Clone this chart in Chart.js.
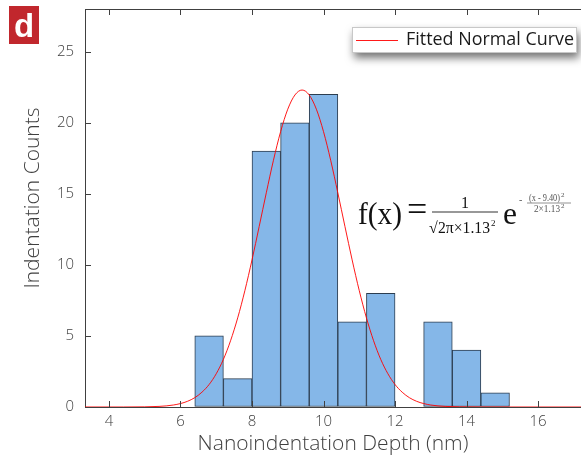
<!DOCTYPE html>
<html><head><meta charset="utf-8">
<script src="https://cdn.jsdelivr.net/npm/chart.js@4.4.1/dist/chart.umd.min.js"></script>
<style>html,body{margin:0;padding:0;background:#fff;overflow:hidden}</style>
</head><body>
<canvas id="c" width="581" height="457"></canvas>
<script>
// Histogram bins (centres, width 0.8 nm) and counts
const binCenters = [6.8, 7.6, 8.4, 9.2, 10.0, 10.8, 11.6, 12.4, 13.2, 14.0, 14.8];
const binCounts  = [5, 2, 18, 20, 22, 6, 8, 0, 6, 4, 1];
// Fitted normal curve
const curveX = [3.3, 4.4, 5.0, 5.4, 5.6, 5.8, 6.0, 6.2, 6.4, 6.6, 6.8, 7.0, 7.2, 7.4, 7.6, 7.8, 8.0, 8.2, 8.4, 8.6, 8.8, 9.0, 9.2, 9.4,
                9.6, 9.8, 10.0, 10.2, 10.4, 10.6, 10.8, 11.0, 11.2, 11.4, 11.6, 11.8, 12.0, 12.2, 12.4, 12.6, 12.8, 13.0, 13.2, 13.4, 13.8, 14.4, 17.2];
const curveY = [0, 0.001, 0.011, 0.042, 0.078, 0.139, 0.241, 0.404, 0.657, 1.04, 1.58, 2.34, 3.35, 4.66, 6.27, 8.18, 10.35, 12.69, 15.07, 17.36, 19.37, 20.95, 21.95, 22.3,
                21.95, 20.95, 19.37, 17.36, 15.07, 12.69, 10.35, 8.18, 6.27, 4.66, 3.35, 2.34, 1.58, 1.04, 0.657, 0.404, 0.241, 0.139, 0.078, 0.042, 0.011, 0.001, 0];
const xTicks = [4, 6, 8, 10, 12, 14, 16];
const yTicks = [0, 5, 10, 15, 20, 25];
const curveLabel = 'Fitted Normal Curve';
const panelLabel = 'd';
const xTitle = 'Nanoindentation Depth (nm)';
const yTitle = 'Indentation Counts';

const AXIS = '#404040';
const TICKFONT = {family: '"Open Sans", sans-serif', size: 15, weight: '300'};
const TITLEFONT = {family: '"Open Sans", sans-serif', size: 21, weight: '300'};

const decor = {
  id: 'decor',
  afterDraw(chart) {
    const ctx = chart.ctx, a = chart.chartArea, xs = chart.scales.x, ys = chart.scales.y;
    ctx.save();
    // top border
    ctx.strokeStyle = AXIS; ctx.lineWidth = 1;
    ctx.beginPath(); ctx.moveTo(a.left, a.top + 0.5); ctx.lineTo(a.right, a.top + 0.5); ctx.stroke();
    // inward ticks
    ctx.beginPath();
    xTicks.forEach(v => {
      const px = Math.round(xs.getPixelForValue(v)) + 0.5;
      ctx.moveTo(px, a.bottom); ctx.lineTo(px, a.bottom - 6);
      ctx.moveTo(px, a.top); ctx.lineTo(px, a.top + 6);
    });
    yTicks.forEach(v => {
      const py = Math.round(ys.getPixelForValue(v)) + 0.5;
      ctx.moveTo(a.left, py); ctx.lineTo(a.left + 6, py);
    });
    ctx.stroke();

    // y axis title
    ctx.save();
    ctx.translate(33, 198); ctx.rotate(-Math.PI / 2);
    ctx.fillStyle = AXIS; ctx.font = '300 21px "Open Sans", sans-serif';
    ctx.textAlign = 'center'; ctx.textBaseline = 'middle';
    ctx.fillText(yTitle, 0, 0);
    ctx.restore();

    // legend box
    const lx = 352, ly = 27, lw = 225, lh = 26;
    ctx.save();
    ctx.shadowColor = 'rgba(0,0,0,0.55)'; ctx.shadowBlur = 8; ctx.shadowOffsetX = 2; ctx.shadowOffsetY = 5;
    ctx.fillStyle = '#fff'; ctx.fillRect(lx, ly, lw, lh);
    ctx.restore();
    ctx.strokeStyle = '#c8c8c8'; ctx.lineWidth = 1;
    ctx.strokeRect(lx + 0.5, ly + 0.5, lw - 1, lh - 1);
    const ds = chart.data.datasets[0];
    ctx.strokeStyle = ds.borderColor; ctx.lineWidth = 1;
    ctx.beginPath(); ctx.moveTo(356, 40.5); ctx.lineTo(398, 40.5); ctx.stroke();
    ctx.fillStyle = '#1a1a1a'; ctx.font = '400 19px "Open Sans", sans-serif';
    ctx.textBaseline = 'middle'; ctx.textAlign = 'left';
    ctx.fillText(ds.label, 406, 40, 168);

    // formula
    ctx.fillStyle = '#111'; ctx.textBaseline = 'alphabetic';
    ctx.font = '32px "Liberation Serif", serif';
    ctx.fillText('f(x)', 358, 224, 44);
    ctx.font = '36px "Liberation Serif", serif';
    ctx.fillText('=', 407, 221);
    ctx.font = '32px "Liberation Serif", serif';
    ctx.fillText('e', 503, 224, 14);
    ctx.font = '16px "Liberation Serif", serif';
    ctx.textAlign = 'center';
    ctx.fillText('1', 465, 208);
    ctx.textAlign = 'left';
    ctx.fillText('\u221A', 429, 233);
    ctx.fillText('2\u03C0\u00D71.13', 438, 233, 52);
    ctx.font = '9px "Liberation Serif", serif';
    ctx.fillText('2', 491, 226);
    ctx.strokeStyle = '#333'; ctx.lineWidth = 1.2;
    ctx.beginPath(); ctx.moveTo(432, 212); ctx.lineTo(498, 212); ctx.stroke();
    // exponent
    ctx.fillStyle = '#555';
    ctx.font = '10px "Liberation Serif", serif';
    ctx.fillText('-', 519, 203);
    ctx.fillText('(x - 9.40)', 529, 201, 31);
    ctx.font = '7px "Liberation Serif", serif';
    ctx.fillText('2', 561, 197);
    ctx.font = '10px "Liberation Serif", serif';
    ctx.fillText('2\u00D71.13', 534, 212, 26);
    ctx.font = '7px "Liberation Serif", serif';
    ctx.fillText('2', 561, 208);
    ctx.strokeStyle = '#777'; ctx.lineWidth = 0.8;
    ctx.beginPath(); ctx.moveTo(527, 203); ctx.lineTo(571, 203); ctx.stroke();

    // panel label
    ctx.fillStyle = '#c1272d'; ctx.fillRect(9, 6, 30, 38);
    ctx.fillStyle = '#fff'; ctx.font = 'bold 33px "Liberation Sans", Arial, sans-serif';
    ctx.textAlign = 'center'; ctx.textBaseline = 'alphabetic';
    ctx.fillText(panelLabel, 24, 37);
    ctx.restore();
  }
};

new Chart(document.getElementById('c'), {
  type: 'bar',
  data: {
    datasets: [
      {type: 'line', label: curveLabel, data: curveX.map((x, i) => ({x, y: curveY[i]})),
       borderColor: 'rgba(255,0,0,0.9)', borderWidth: 1, pointRadius: 0, fill: false,
       cubicInterpolationMode: 'monotone'},
      {type: 'bar', label: 'Counts', data: binCenters.map((x, i) => ({x, y: binCounts[i]})),
       backgroundColor: '#85b7e8', borderColor: '#2c3d4f', borderWidth: 1, borderSkipped: false,
       barPercentage: 1, categoryPercentage: 1}
    ]
  },
  options: {
    responsive: false, animation: false, devicePixelRatio: 1,
    layout: {padding: {top: 9, right: 0, left: 0, bottom: 0}},
    plugins: {legend: {display: false}, tooltip: {enabled: false}},
    scales: {
      x: {
        type: 'linear', min: 3.33, max: 17.2, offset: false,
        afterBuildTicks: s => { s.ticks = xTicks.map(v => ({value: v})); },
        afterFit: s => { s.height = 50; s.paddingLeft = 0; s.paddingRight = 0; },
        grid: {display: true, drawOnChartArea: false, drawTicks: false, offset: false},
        border: {color: AXIS, width: 1},
        ticks: {padding: 6, color: AXIS, font: TICKFONT, maxRotation: 0},
        title: {display: true, text: xTitle, color: AXIS, font: TITLEFONT, padding: {top: 0, bottom: 0}}
      },
      y: {
        type: 'linear', min: 0, max: 28,
        afterBuildTicks: s => { s.ticks = yTicks.map(v => ({value: v})); },
        afterFit: s => { s.width = 85; s.paddingTop = 0; s.paddingBottom = 0; },
        grid: {display: true, drawOnChartArea: false, drawTicks: false},
        border: {color: AXIS, width: 1},
        ticks: {padding: 11, color: AXIS, font: TICKFONT},
        title: {display: false}
      }
    }
  },
  plugins: [decor]
});
</script>
</body></html>
